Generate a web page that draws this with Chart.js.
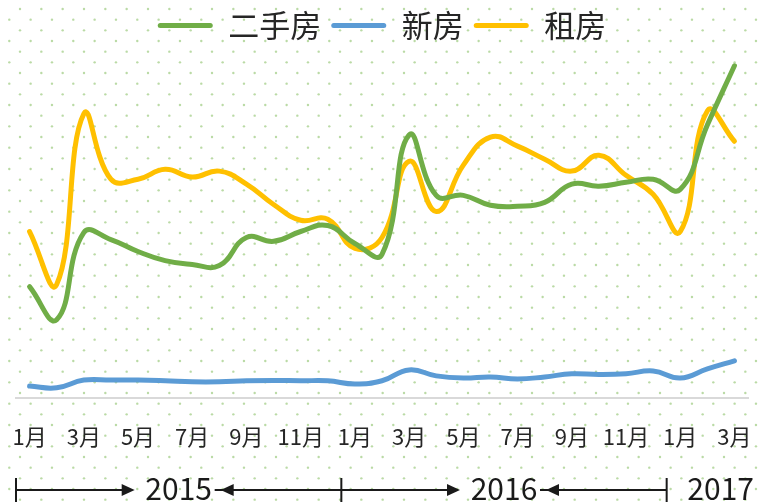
<!DOCTYPE html>
<html>
<head>
<meta charset="utf-8">
<script src="https://cdn.jsdelivr.net/npm/chart.js@4"></script>
<style>
  html, body { margin: 0; padding: 0; background: #fff; }
</style>
</head>
<body>
<canvas id="chart" width="761" height="502"></canvas>
<script>
// months Jan 2015 .. Mar 2017
const months = ['1月','2月','3月','4月','5月','6月','7月','8月','9月','10月','11月','12月',
                '1月','2月','3月','4月','5月','6月','7月','8月','9月','10月','11月','12月',
                '1月','2月','3月'];
const secondHand = [31.7, 22.3, 47.1, 45.1, 41.7, 39.1, 38.0, 37.7, 45.7, 44.6, 47.4, 49.1,
                    44.0, 40.9, 74.9, 57.7, 57.7, 54.9, 54.6, 55.7, 60.9, 60.3, 61.4, 62.3,
                    59.4, 77.7, 94.6];
const newHomes = [3.4, 2.9, 5.1, 5.1, 5.1, 4.9, 4.6, 4.6, 4.9, 5.0, 4.9, 4.9,
                  4.0, 4.9, 8.0, 6.3, 5.7, 6.0, 5.4, 6.0, 6.9, 6.7, 6.9, 7.7,
                  5.7, 8.3, 10.6];
const rentals = [47.4, 32.3, 80.9, 62.3, 62.3, 65.1, 62.9, 64.6, 60.9, 55.1, 50.6, 50.9,
                 42.6, 45.7, 67.4, 53.1, 66.3, 74.3, 71.7, 68.0, 64.6, 69.1, 63.4, 58.0,
                 47.4, 81.7, 73.1];
const years = ['2015', '2016', '2017'];
const yearStarts = [0, 12, 24];

const FONT = '"Noto Sans CJK SC", "Noto Sans", sans-serif';
const TEXT = '#262626';

// dotted background like the original sheet
const dotBackground = {
  id: 'dotBackground',
  beforeDraw(chart) {
    const ctx = chart.ctx;
    ctx.save();
    ctx.fillStyle = '#fff';
    ctx.fillRect(0, 0, chart.width, chart.height);
    ctx.fillStyle = 'rgba(169, 209, 142, 0.8)';
    const step = 64 / 3;
    let row = 0;
    for (let y = 41 - 2 * step; y < chart.height + 5; y += step / 2, row++) {
      const x0 = (row % 2 === 0) ? 9.3 : 20;
      for (let x = x0 - step; x < chart.width + 5; x += step) {
        ctx.beginPath();
        ctx.arc(x, y, 1.2, 0, Math.PI * 2);
        ctx.fill();
      }
    }
    ctx.restore();
  }
};

// year brackets under the month labels
const yearRow = {
  id: 'yearRow',
  afterDraw(chart) {
    const ctx = chart.ctx;
    const xs = chart.scales.x;
    const half = (xs.getPixelForValue(1) - xs.getPixelForValue(0)) / 2;
    const y = 490;
    ctx.save();
    ctx.strokeStyle = '#1a1a1a';
    ctx.fillStyle = '#1a1a1a';
    ctx.lineWidth = 2;
    ctx.font = '30px ' + FONT;
    ctx.textAlign = 'center';
    ctx.textBaseline = 'middle';

    const bar = (x) => {
      ctx.beginPath();
      ctx.moveTo(x, 478);
      ctx.lineTo(x, 502);
      ctx.stroke();
    };
    const arrow = (tip, dir) => {
      ctx.beginPath();
      ctx.moveTo(tip, y);
      ctx.lineTo(tip - dir * 13, y - 6);
      ctx.lineTo(tip - dir * 13, y + 6);
      ctx.closePath();
      ctx.fill();
    };

    years.forEach((yr, k) => {
      const left = xs.getPixelForValue(yearStarts[k]) - half;
      bar(left);
      if (k < years.length - 1) {
        const right = xs.getPixelForValue(yearStarts[k + 1] - 1) + half;
        const mid = (left + right) / 2;
        ctx.beginPath();
        ctx.moveTo(left, y);
        ctx.lineTo(mid - 50, y);
        ctx.moveTo(mid + 36, y);
        ctx.lineTo(right, y);
        ctx.stroke();
        arrow(mid - 44, 1);
        arrow(mid + 42, -1);
        ctx.fillText(yr, mid, y - 1);
      } else {
        ctx.fillText(yr, left + 54, y - 1);
      }
    });
    ctx.restore();
  }
};

const line = (label, data, color) => ({
  label,
  data,
  borderColor: color,
  backgroundColor: color,
  borderWidth: 5,
  borderCapStyle: 'round',
  borderJoinStyle: 'round',
  tension: 0.45,
  pointRadius: 0,
  pointHoverRadius: 0,
  fill: false,
  clip: false
});

new Chart(document.getElementById('chart'), {
  type: 'line',
  data: {
    labels: months,
    datasets: [
      line('二手房', secondHand, '#70AD47'),
      line('新房', newHomes, '#5B9BD5'),
      line('租房', rentals, '#FFC000')
    ]
  },
  options: {
    responsive: false,
    animation: false,
    layout: { padding: { left: 16, right: 13, top: 0, bottom: 0 } },
    plugins: {
      tooltip: { enabled: false },
      legend: {
        position: 'top',
        labels: {
          boxWidth: 55,
          boxHeight: 5,
          useBorderRadius: true,
          borderRadius: 2.5,
          padding: 10,
          color: TEXT,
          font: { size: 31, family: FONT },
          generateLabels: (chart) =>
            Chart.defaults.plugins.legend.labels.generateLabels(chart)
              .map(item => ({ ...item, lineWidth: 0 }))
        }
      }
    },
    scales: {
      x: {
        offset: true,
        grid: {
          display: true,
          drawOnChartArea: false,
          drawTicks: true,
          tickLength: 22,
          color: 'rgba(0,0,0,0)'
        },
        border: { display: true, color: '#d9d9d9', width: 2 },
        ticks: {
          autoSkip: false,
          maxRotation: 0,
          padding: 3,
          color: TEXT,
          font: { size: 22, family: FONT },
          callback: (v, i) => (i % 2 === 0 ? months[i] : '')
        },
        afterFit: (scale) => { scale.height = 104; }
      },
      y: {
        display: false,
        min: 0,
        max: 98.8
      }
    }
  },
  plugins: [dotBackground, yearRow]
});
</script>
</body>
</html>
